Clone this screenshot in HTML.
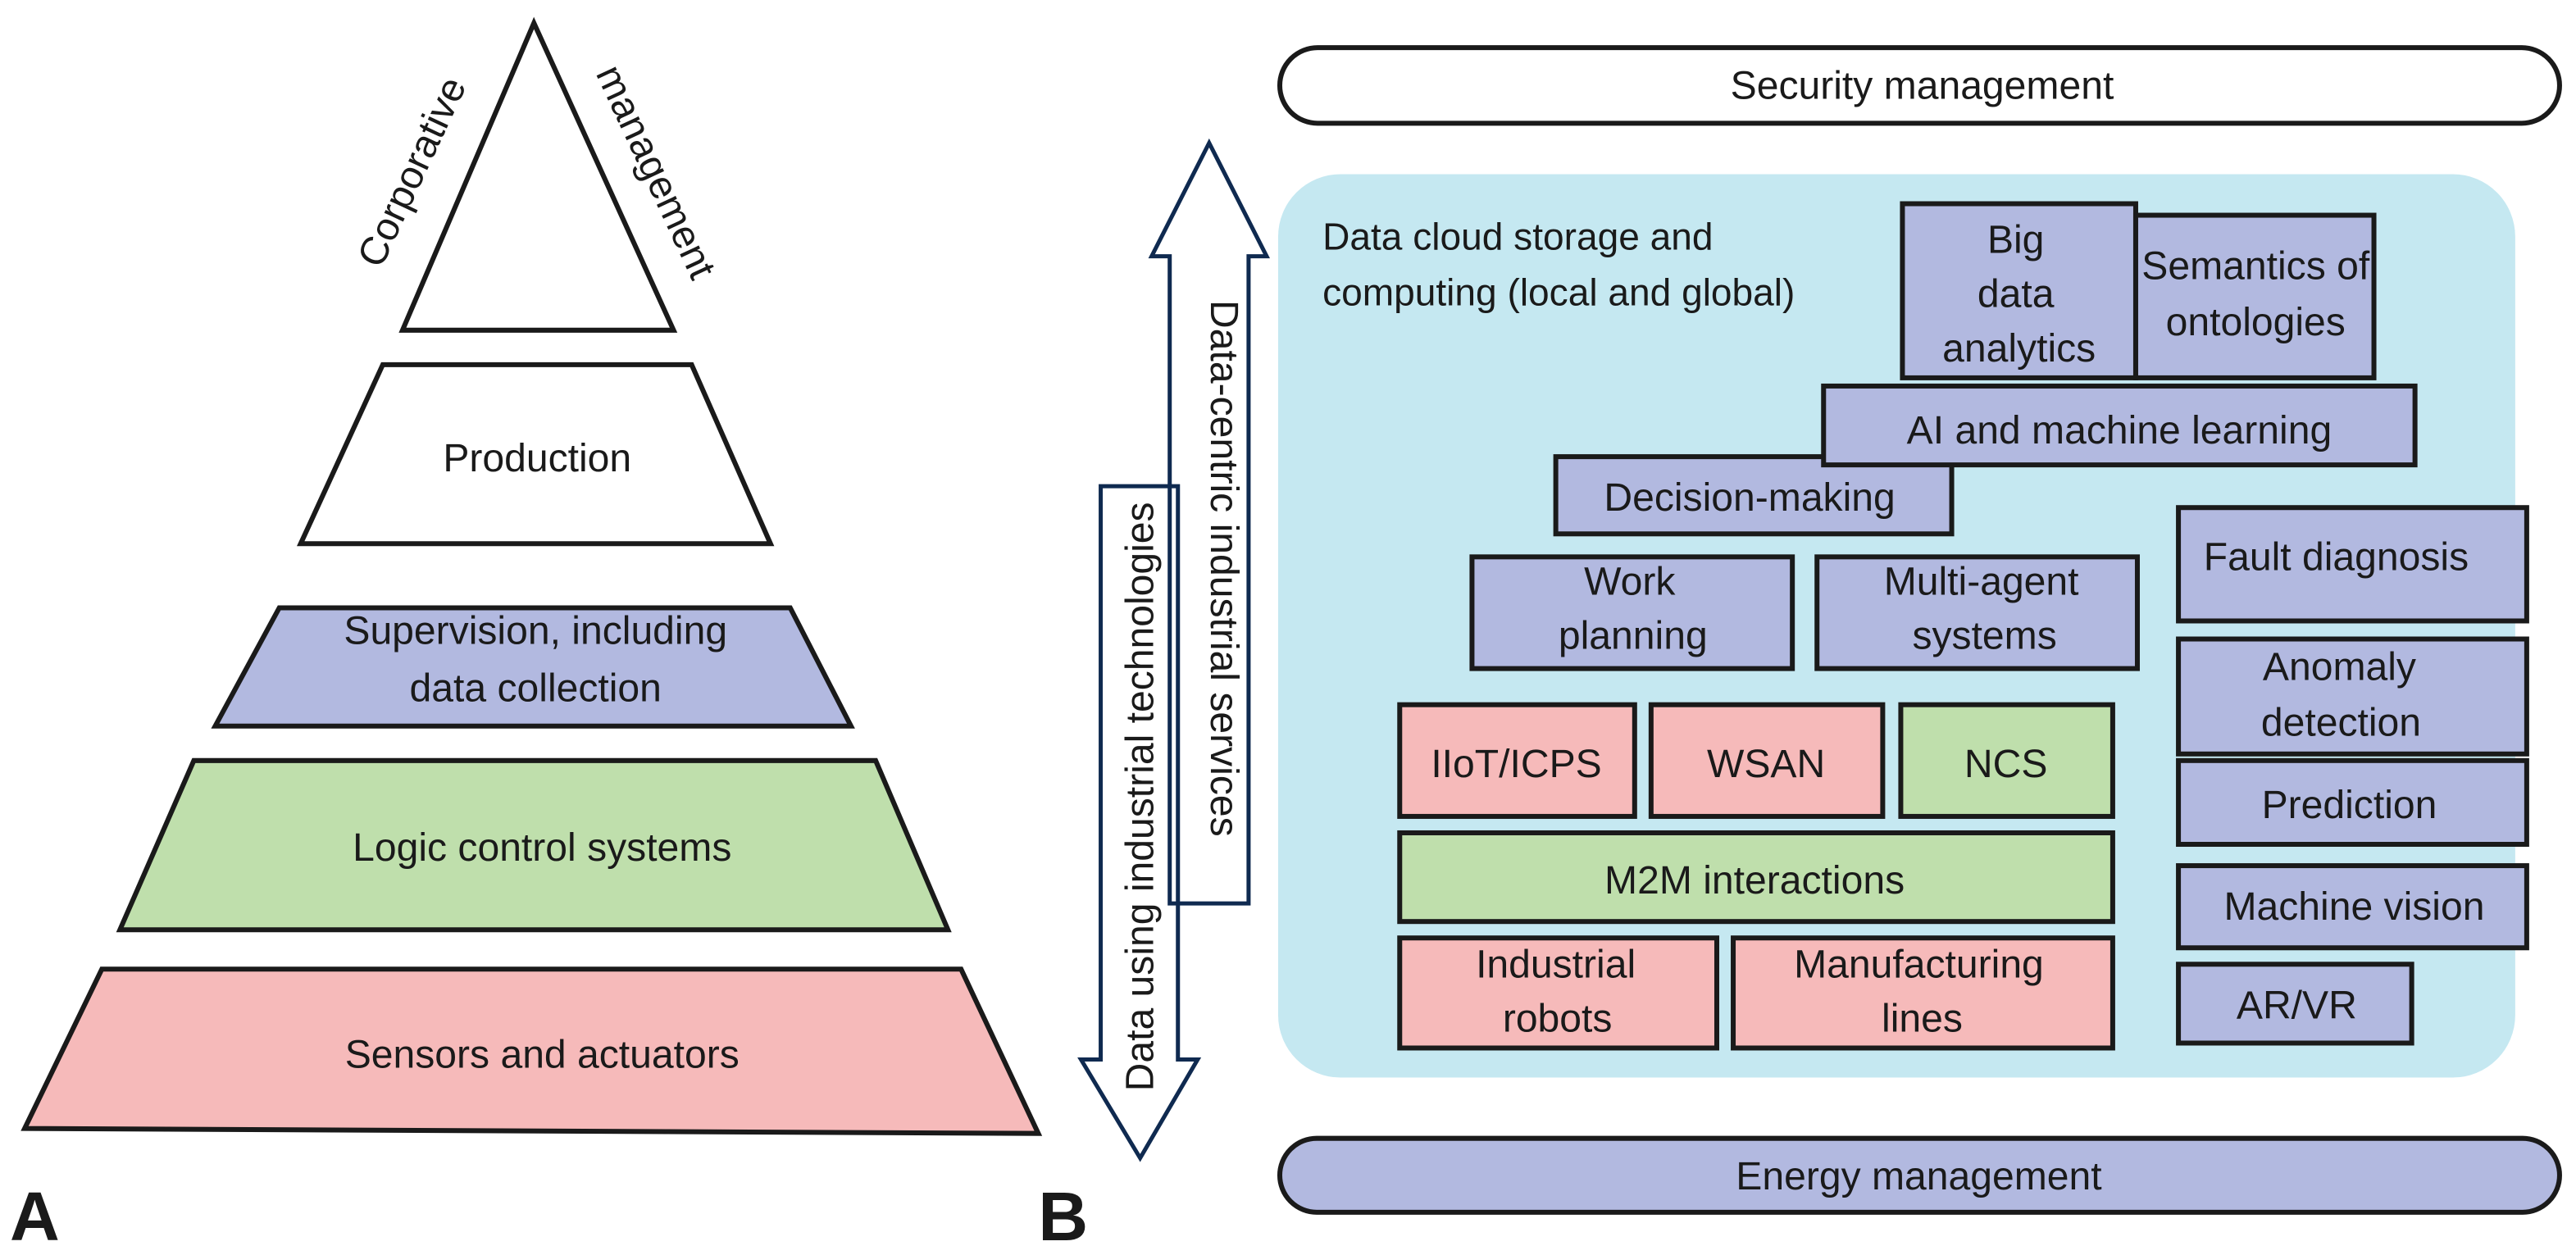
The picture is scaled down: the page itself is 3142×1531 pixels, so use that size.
<!DOCTYPE html>
<html><head><meta charset="utf-8"><style>
html,body{margin:0;padding:0;background:#fff;}
svg{display:block;}
text{font-family:"Liberation Sans Narrow","Liberation Sans",sans-serif;fill:#1a1a1a;}
</style></head><body>
<svg width="3142" height="1531" viewBox="0 0 1568 764" xmlns="http://www.w3.org/2000/svg">
<g stroke="#1a1a1a" stroke-width="3" stroke-linejoin="miter">
<polygon points="325,14 410,201 245,201" fill="#fff"/>
<polygon points="233,222 421,222 469,331 183,331" fill="#fff"/>
<polygon points="170,370 481,370 518,442 131,442" fill="#b2b9e0"/>
<polygon points="118,463 533,463 577,566 73,566" fill="#bfdfac"/>
<polygon points="62,590 585,590 632,690 15,687" fill="#f6baba"/>
</g>
<g font-size="24" text-anchor="middle">
<text x="258" y="108" transform="rotate(-65 258 108)">Corporative</text>
<text x="392" y="108" transform="rotate(65 392 108)">management</text>
<text x="327" y="287">Production</text>
<text x="326" y="392">Supervision, including</text>
<text x="326" y="427">data collection</text>
<text x="330" y="524">Logic control systems</text>
<text x="330" y="650">Sensors and actuators</text>
</g>
<text x="6" y="755" font-size="42" font-weight="bold" font-family="Liberation Sans,sans-serif">A</text>
<text x="632" y="755" font-size="42" font-weight="bold" font-family="Liberation Sans,sans-serif">B</text>
<g fill="none" stroke="#0f2a50" stroke-width="2.5">
<polygon points="670,296 717,296 717,645 729,645 694,705 658,645 670,645"/>
<polygon points="736,87 771,156 760,156 760,550 712,550 712,156 701,156"/>
</g>
<g font-size="24" text-anchor="middle">
<text x="0" y="0" transform="translate(737,346) rotate(90)">Data-centric industrial services</text>
<text x="0" y="0" transform="translate(702,485) rotate(-90)">Data using industrial technologies</text>
</g>
<rect x="779" y="29" width="779" height="46" rx="23" fill="#fff" stroke="#1a1a1a" stroke-width="3"/>
<text x="1170" y="60" font-size="24" text-anchor="middle">Security management</text>
<rect x="779" y="693" width="779" height="45" rx="22.5" fill="#b2b9e0" stroke="#1a1a1a" stroke-width="3"/>
<text x="1168" y="724" font-size="24" text-anchor="middle">Energy management</text>
<rect x="778" y="106" width="753" height="550" rx="38" fill="#c5e8f1"/>
<text x="805" y="152" font-size="23">Data cloud storage and</text>
<text x="805" y="186" font-size="23">computing (local and global)</text>
<g stroke="#1a1a1a" stroke-width="3">
<g fill="#b2b9e0">
<rect x="1158" y="124" width="142" height="106"/>
<rect x="1300" y="131" width="145" height="99"/>
<rect x="947" y="278" width="241" height="47"/>
<rect x="1110" y="235" width="360" height="48"/>
<rect x="896" y="339" width="195" height="68"/>
<rect x="1106" y="339" width="195" height="68"/>
<rect x="1326" y="309" width="212" height="69"/>
<rect x="1326" y="389" width="212" height="70"/>
<rect x="1326" y="463" width="212" height="51"/>
<rect x="1326" y="527" width="212" height="50"/>
<rect x="1326" y="587" width="142" height="48"/>
</g>
<rect x="852" y="429" width="143" height="68" fill="#f6baba"/>
<rect x="1005" y="429" width="141" height="68" fill="#f6baba"/>
<rect x="1157" y="429" width="129" height="68" fill="#bfdfac"/>
<rect x="852" y="507" width="434" height="54" fill="#bfdfac"/>
<rect x="852" y="571" width="193" height="67" fill="#f6baba"/>
<rect x="1055" y="571" width="231" height="67" fill="#f6baba"/>
</g>
<g font-size="24" text-anchor="middle">
<text x="1227" y="154">Big</text>
<text x="1227" y="187">data</text>
<text x="1229" y="220">analytics</text>
<text x="1373" y="170">Semantics of</text>
<text x="1373" y="204">ontologies</text>
<text x="1290" y="270">AI and machine learning</text>
<text x="1065" y="311">Decision-making</text>
<text x="992" y="362">Work</text>
<text x="994" y="395">planning</text>
<text x="1206" y="362">Multi-agent</text>
<text x="1208" y="395">systems</text>
<text x="1422" y="347">Fault diagnosis</text>
<text x="1424" y="414">Anomaly</text>
<text x="1425" y="448">detection</text>
<text x="1430" y="498">Prediction</text>
<text x="1433" y="560">Machine vision</text>
<text x="1398" y="620">AR/VR</text>
<text x="923" y="473">IIoT/ICPS</text>
<text x="1075" y="473">WSAN</text>
<text x="1221" y="473">NCS</text>
<text x="1068" y="544">M2M interactions</text>
<text x="947" y="595">Industrial</text>
<text x="948" y="628">robots</text>
<text x="1168" y="595">Manufacturing</text>
<text x="1170" y="628">lines</text>
</g>
</svg>
</body></html>
